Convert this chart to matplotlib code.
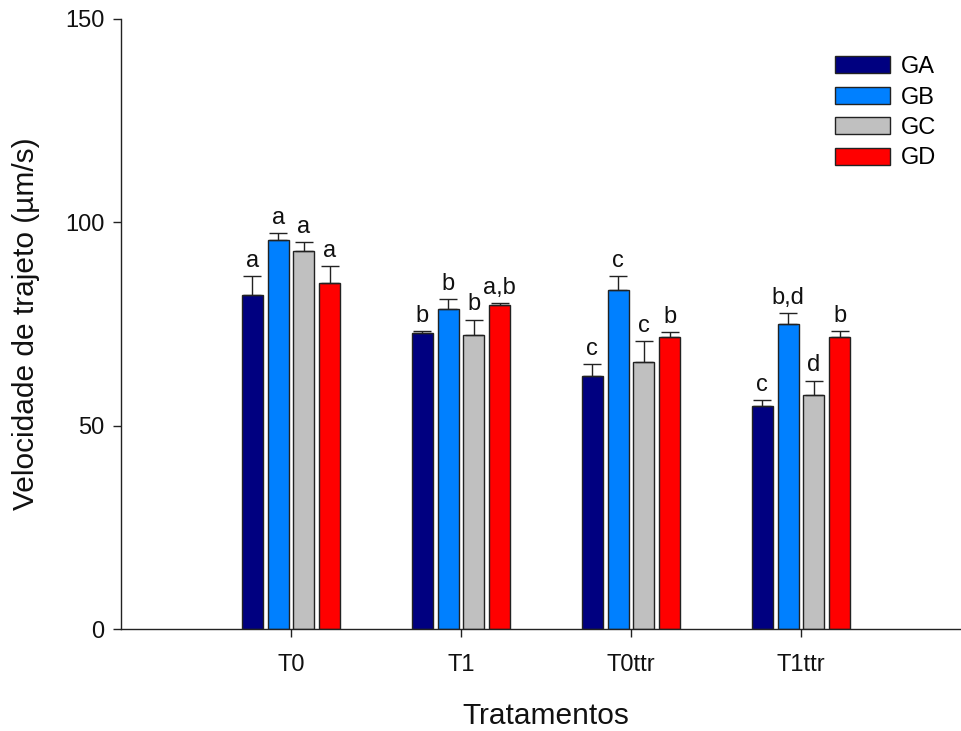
import matplotlib
matplotlib.use("Agg")
import matplotlib.pyplot as plt
import numpy as np

plt.rcParams['font.family'] = ['Liberation Sans', 'DejaVu Sans']

categories = ["T0", "T1", "T0ttr", "T1ttr"]
groups = ["GA", "GB", "GC", "GD"]
colors = ["#000080", "#0080FF", "#C0C0C0", "#FF0000"]

means = {
    "GA": [82.1, 72.7, 62.3, 54.8],
    "GB": [95.6, 78.8, 83.3, 74.9],
    "GC": [92.9, 72.3, 65.7, 57.5],
    "GD": [85.2, 79.6, 71.7, 71.7],
}
errs = {
    "GA": [4.7, 0.6, 2.8, 1.5],
    "GB": [1.8, 2.3, 3.5, 2.8],
    "GC": [2.2, 3.8, 5.1, 3.6],
    "GD": [4.1, 0.6, 1.3, 1.5],
}
letters = {
    "GA": ["a", "b", "c", "c"],
    "GB": ["a", "b", "c", "b,d"],
    "GC": ["a", "b", "c", "d"],
    "GD": ["a", "a,b", "b", "b"],
}

fig = plt.figure(figsize=(9.62, 7.31), dpi=100)
ax = fig.add_axes([121/962, (731-629)/731, 850/962, 610/731])

x = np.arange(1, len(categories) + 1)
width = 0.124
offsets = [-0.228, -0.076, 0.076, 0.228]

for g, c, off in zip(groups, colors, offsets):
    xs = x + off
    ax.bar(xs, means[g], width=width, color=c, edgecolor="#222222",
           linewidth=1.0, label=g, zorder=2)
    ax.errorbar(xs, means[g], yerr=[np.zeros(len(xs)), errs[g]], fmt="none",
                ecolor="#222222", elinewidth=1.0, capsize=6.5, capthick=1.0,
                zorder=3)
    for xi, m, e, t in zip(xs, means[g], errs[g], letters[g]):
        ax.annotate(t, (xi, m + e), xytext=(0, 6.5), textcoords="offset points",
                    ha="center", va="baseline", fontsize=17, color="#111111")

ax.set_xlim(0, 5)
ax.set_ylim(0, 150)
ax.set_yticks([0, 50, 100, 150])
ax.set_xticks(x)
ax.set_xticklabels(categories)
ax.tick_params(axis="both", direction="out", length=6, width=1.0,
               labelsize=17, colors="#222222", labelcolor="#111111")
ax.tick_params(axis="x", pad=12)
ax.tick_params(axis="y", pad=6)
for s in ["top", "right"]:
    ax.spines[s].set_visible(False)
for s in ["left", "bottom"]:
    ax.spines[s].set_linewidth(1.0)
    ax.spines[s].set_color("#222222")

ax.set_xlabel("Tratamentos", fontsize=21.5, labelpad=19, color="#111111")
ax.set_ylabel("Velocidade de trajeto (\u00b5m/s)", fontsize=21.5, color="#111111")
ax.yaxis.set_label_coords(-0.095, 0.5)

leg = ax.legend(loc="upper left", frameon=False, fontsize=17,
                handlelength=2.33, handleheight=0.76, handletextpad=0.45,
                labelspacing=0.36, borderaxespad=0, borderpad=0)
leg.set_bbox_to_anchor((835 / 962, (731 - 56) / 731), transform=fig.transFigure)

fig.savefig("out.png", dpi=100)
